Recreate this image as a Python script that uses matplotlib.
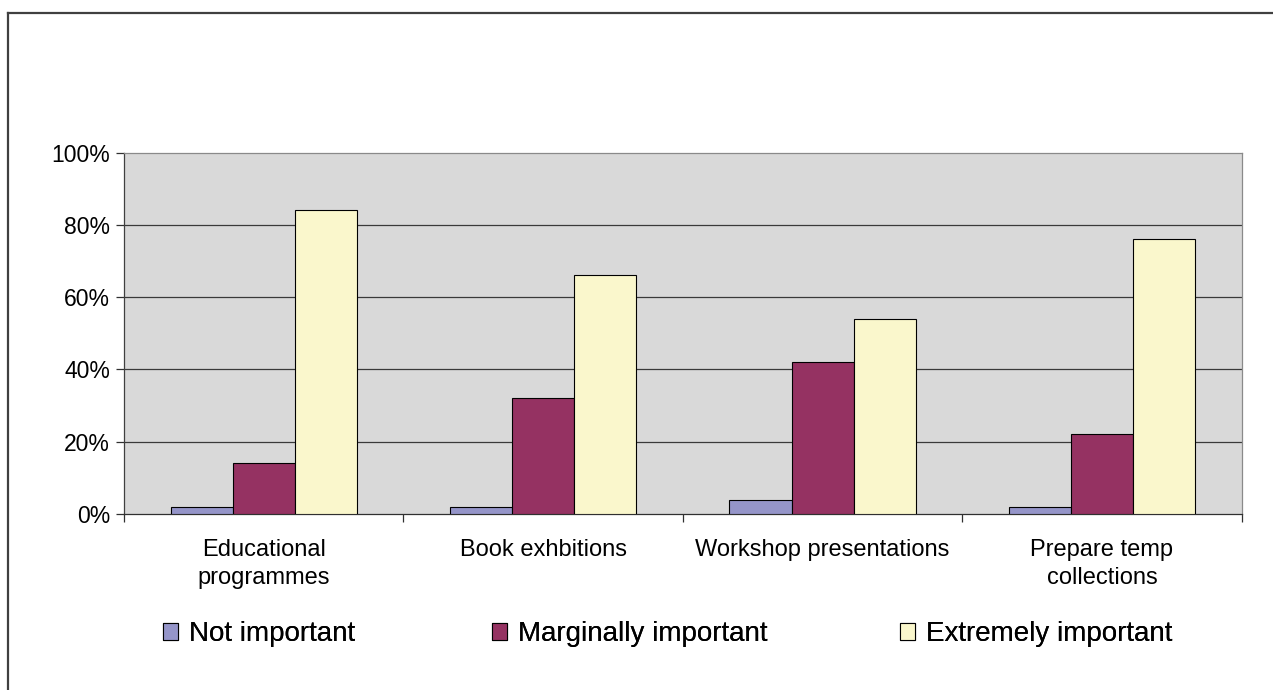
import numpy as np
import matplotlib.pyplot as plt
from matplotlib.lines import Line2D

plt.rcParams['font.family'] = ['Liberation Sans', 'DejaVu Sans']

# data (percent)
categories = ["Educational\nprogrammes", "Book exhbitions", "Workshop presentations", "Prepare temp\ncollections"]
series = ["Not important", "Marginally important", "Extremely important"]
not_important = [2, 2, 4, 2]
marginally = [14, 32, 42, 22]
extremely = [84, 66, 54, 76]
colors = ['#9595C9', '#953262', '#FAF7CC']

fig = plt.figure(figsize=(12.73, 6.90), dpi=100)
ax = fig.add_axes([124/1273, 1-514/690, (1241.7-124)/1273, (514-152.5)/690])
ax.set_facecolor('#D9D9D9')

x = np.arange(len(categories)) + 0.5
w = 1/4.5
bars = []
for i, (vals, c) in enumerate(zip([not_important, marginally, extremely], colors)):
    b = ax.bar(x + (i-1)*w, vals, width=w, color=c, edgecolor='black', linewidth=0.8, zorder=3, label=series[i])
    bars.append(b)

ax.set_xlim(0, 4)
ax.set_ylim(0, 100)
ax.set_yticks([0, 20, 40, 60, 80, 100])
ax.set_yticklabels(['0%', '20%', '40%', '60%', '80%', '100%'], fontsize=16.5)
for yv in [20, 40, 60, 80]:
    ax.axhline(yv, color='#3a3a3a', lw=0.9, zorder=1)

# category boundaries get tick marks, labels go in between
ax.set_xticks([0, 1, 2, 3, 4])
ax.set_xticklabels([])
ax.set_xticks(x, minor=True)
ax.set_xticklabels(categories, minor=True, fontsize=17, linespacing=1.38)
ax.tick_params(axis='x', which='minor', length=0, pad=18)
ax.tick_params(axis='x', which='major', length=6, width=0.9, direction='out', color='#303030')
ax.tick_params(axis='y', length=6, width=0.9, direction='out', color='#303030', pad=4)

ax.spines['top'].set_color('#8a8a8a')
ax.spines['right'].set_color('#8a8a8a')
ax.spines['left'].set_color('#404040')
ax.spines['bottom'].set_color('#303030')
for s in ax.spines.values():
    s.set_linewidth(0.9)

# legend: three separate entries placed like the original
legx = [163/1273, 492/1273, 900/1273]
for b, lx in zip(bars, legx):
    lg = fig.legend(handles=[b], loc='center left', bbox_to_anchor=(lx, 1-634/690),
                    frameon=False, fontsize=20, handlelength=0.55, handleheight=0.55,
                    handletextpad=0.4, borderpad=0, borderaxespad=0)
    fig.add_artist(lg)

# outer border (only top and left visible)
fig.add_artist(Line2D([8/1273, 1], [1-13/690, 1-13/690], color='#404040', lw=1.6, transform=fig.transFigure))
fig.add_artist(Line2D([8/1273, 8/1273], [0, 1-13/690], color='#404040', lw=1.6, transform=fig.transFigure))

fig.savefig('out.png', dpi=100)
